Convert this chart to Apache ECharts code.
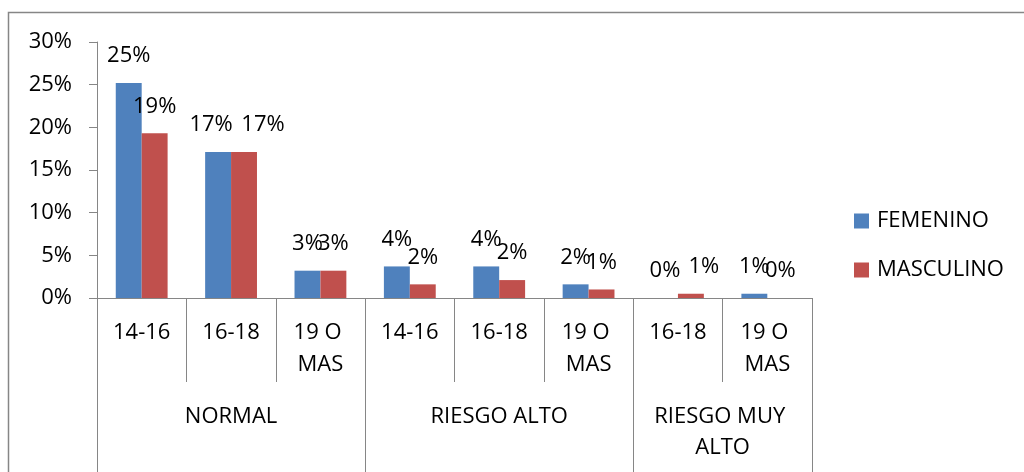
<!DOCTYPE html>
<html>
	<head>
		<meta charset="utf-8" />
		<script src="https://cdn.jsdelivr.net/npm/echarts@6/dist/echarts.min.js"></script>
		<title>Chart</title>
		<style>
			* {
				margin: 0;
				padding: 0;
			}
			body {
				background: #ffffff;
			}
			#chart {
				width: 1024px;
				height: 472px;
			}
		</style>
	</head>
	<body>
		<div id="chart"></div>
		<script>
			// data (percent)
			var subCats = ['14-16', '16-18', '19 O MAS', '14-16', '16-18', '19 O MAS', '16-18', '19 O MAS'];
			var groups = ['NORMAL', 'RIESGO ALTO', 'RIESGO MUY ALTO'];
			var groupSizes = [3, 3, 2];
			var femenino = [25.2, 17.1, 3.2, 3.7, 3.7, 1.6, 0, 0.5];
			var masculino = [19.3, 17.1, 3.2, 1.6, 2.1, 1.0, 0.5, 0];
			var yTicks = [0, 5, 10, 15, 20, 25, 30];

			var font = 'Open Sans';
			var fs = 22;
			var gray = '#868686';

			// a few labels were moved sideways by hand in the original
			var nudgeF = { 1: -7 };
			var nudgeM = { 1: 19, 6: 13 };

			// group boundaries and centres on a 0..n value scale
			var bounds = [0], centres = [];
			groupSizes.forEach(function (s, i) {
				var start = bounds[bounds.length - 1];
				bounds.push(start + s);
				centres.push(start + s / 2);
			});

			function withNudge(values, nudge) {
				return values.map(function (v, i) {
					if (nudge[i] === undefined) return v;
					return { value: v, label: { offset: [nudge[i], 0] } };
				});
			}

			var chart = echarts.init(document.getElementById('chart'));

			var labelOpt = {
				show: true,
				position: 'top',
				distance: 16,
				color: '#000',
				fontFamily: font,
				fontSize: fs,
				formatter: function (p) {
					return Math.round(p.value) + '%';
				}
			};

			chart.setOption({
				animation: false,
				graphic: [{
					type: 'rect',
					shape: { x: 8.5, y: 12.5, width: 1100, height: 500 },
					style: { fill: 'none', stroke: gray, lineWidth: 1.5 },
					silent: true
				}],
				grid: {
					left: 97,
					right: 212,
					top: 42,
					bottom: 174
				},
				legend: {
					orient: 'vertical',
					left: 849,
					top: 205,
					itemWidth: 15,
					itemHeight: 15,
					itemGap: 27,
					icon: 'rect',
					textStyle: {
						fontFamily: font,
						fontSize: fs,
						color: '#000',
						padding: [0, 0, 0, 3]
					},
					data: ['FEMENINO', 'MASCULINO']
				},
				xAxis: [{
					type: 'category',
					data: subCats,
					axisLine: { lineStyle: { color: gray, width: 1 } },
					axisTick: {
						show: true,
						interval: 0,
						length: 84,
						lineStyle: { color: gray }
					},
					axisLabel: {
						interval: 0,
						margin: 19,
						color: '#000',
						fontFamily: font,
						fontSize: fs,
						lineHeight: 32,
						width: 80,
						overflow: 'break'
					}
				}, {
					type: 'value',
					min: 0,
					max: bounds[bounds.length - 1],
					position: 'bottom',
					axisLine: { show: false },
					splitLine: { show: false },
					axisTick: {
						show: true,
						length: 200,
						customValues: bounds,
						lineStyle: { color: gray }
					},
					axisLabel: {
						customValues: centres,
						margin: 103,
						color: '#000',
						fontFamily: font,
						fontSize: fs,
						lineHeight: 31,
						width: 170,
						overflow: 'break',
						formatter: function (v) {
							return groups[centres.indexOf(v)];
						}
					}
				}],
				yAxis: {
					type: 'value',
					min: yTicks[0],
					max: yTicks[yTicks.length - 1],
					interval: 5,
					splitLine: { show: false },
					axisLine: { show: true, lineStyle: { color: gray } },
					axisTick: { show: true, length: 8, lineStyle: { color: gray } },
					axisLabel: {
						margin: 25,
						color: '#000',
						fontFamily: font,
						fontSize: fs,
						formatter: '{value}%'
					}
				},
				series: [{
					name: 'FEMENINO',
					type: 'bar',
					data: withNudge(femenino, nudgeF),
					itemStyle: { color: '#4F81BD' },
					barGap: '0%',
					barCategoryGap: '42%',
					label: labelOpt
				}, {
					name: 'MASCULINO',
					type: 'bar',
					data: withNudge(masculino, nudgeM),
					itemStyle: { color: '#C0504D' },
					barGap: '0%',
					barCategoryGap: '42%',
					label: labelOpt
				}]
			});
		</script>
	</body>
</html>
